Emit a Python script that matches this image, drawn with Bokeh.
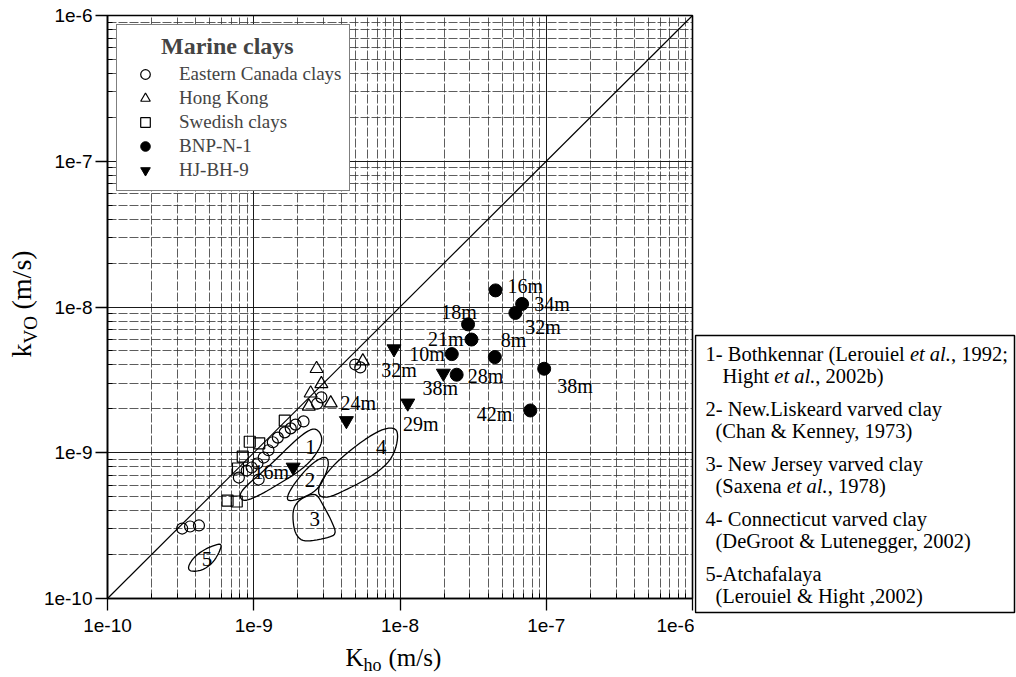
import numpy as np
from bokeh.plotting import figure
from bokeh.models import (ColumnDataSource, Legend, LegendItem, FixedTicker,
                          CustomJSTickFormatter, Range1d)
from bokeh.layouts import row, column
from bokeh.embed import file_html
from bokeh.resources import INLINE
from bokeh.core.properties import value

# ---------------- data (m/s) ----------------
canada_kh = [4.94e-9, 5.35e-9, 2.90e-9, 2.71e-9, 2.19e-9, 1.93e-9, 1.79e-9, 1.63e-9, 1.46e-9, 1.35e-9,
             1.26e-9, 1.17e-9, 1.06e-9, 9.68e-10, 8.95e-10, 7.91e-10, 1.08e-9, 3.24e-10, 3.67e-10, 4.22e-10]
canada_kv = [4.03e-9, 3.85e-9, 2.40e-9, 2.17e-9, 1.64e-9, 1.56e-9, 1.47e-9, 1.38e-9, 1.27e-9, 1.18e-9,
             1.04e-9, 9.27e-10, 8.44e-10, 7.92e-10, 7.55e-10, 6.76e-10, 6.55e-10, 3.02e-10, 3.12e-10, 3.17e-10]

hk_kh = [2.69e-9, 5.57e-9, 2.90e-9, 2.45e-9, 3.36e-9, 2.38e-9]
hk_kv = [3.77e-9, 4.25e-9, 2.97e-9, 2.56e-9, 2.19e-9, 2.08e-9]

sw_kh = [1.63e-9, 9.39e-10, 1.09e-9, 8.41e-10, 7.80e-10, 6.62e-10, 7.65e-10]
sw_kv = [1.66e-9, 1.19e-9, 1.16e-9, 9.42e-10, 7.80e-10, 4.70e-10, 4.63e-10]

bnp_kh = [4.50e-8, 6.84e-8, 6.15e-8, 2.92e-8, 3.08e-8, 4.45e-8, 2.26e-8, 2.44e-8, 9.68e-8, 7.78e-8]
bnp_kv = [1.30e-8, 1.05e-8, 9.1e-9, 7.6e-9, 5.98e-9, 4.53e-9, 4.75e-9, 3.43e-9, 3.77e-9, 1.95e-9]
bnp_depth = ["16m", "34m", "32m", "18m", "21m", "8m", "10m", "28m", "38m", "42m"]

hj_kh = [9.1e-9, 1.98e-8, 1.13e-8, 4.3e-9, 1.86e-9]
hj_kv = [5.16e-9, 3.51e-9, 2.19e-9, 1.66e-9, 7.96e-10]
hj_depth = ["32m", "38m", "29m", "24m", "16m"]

# literature zones: outlines as log10(kh), log10(kv)
zone_names = ["1", "2", "3", "4", "5"]
zone_lx = [
    [-8.571, -8.530, -8.545, -8.605, -8.696, -8.810, -8.923, -9.014, -9.075, -9.100, -9.062, -8.968, -8.855, -8.741, -8.639],
    [-8.503, -8.485, -8.515, -8.560, -8.628, -8.707, -8.772, -8.766, -8.707, -8.628, -8.560],
    [-8.571, -8.524, -8.469, -8.432, -8.503, -8.605, -8.673, -8.717, -8.733, -8.730, -8.694, -8.633],
    [-8.027, -8.012, -8.039, -8.107, -8.243, -8.379, -8.492, -8.560, -8.552, -8.469, -8.356, -8.220, -8.107],
    [-9.215, -9.240, -9.286, -9.354, -9.433, -9.452, -9.410, -9.342, -9.274],
]
zone_ly = [
    [-8.830, -8.893, -8.962, -9.053, -9.133, -9.202, -9.271, -9.316, -9.332, -9.293, -9.236, -9.156, -9.053, -8.939, -8.852],
    [-9.025, -9.076, -9.168, -9.247, -9.293, -9.323, -9.332, -9.282, -9.190, -9.099, -9.045],
    [-9.280, -9.362, -9.465, -9.560, -9.585, -9.605, -9.605, -9.554, -9.465, -9.383, -9.328, -9.293],
    [-8.830, -8.893, -9.007, -9.099, -9.190, -9.259, -9.310, -9.297, -9.213, -9.099, -8.996, -8.893, -8.832],
    [-9.622, -9.693, -9.762, -9.808, -9.816, -9.785, -9.717, -9.666, -9.636],
]
zone_label_kh = [2.44e-9, 2.42e-9, 2.61e-9, 7.43e-9, 4.79e-10]
zone_label_kv = [1.10e-9, 6.52e-10, 3.52e-10, 1.09e-9, 1.87e-10]

axis_ticks = [1e-10, 1e-9, 1e-8, 1e-7, 1e-6]

legend_title = "Marine clays"
legend_labels = ["Eastern Canada clays", "Hong Kong", "Swedish clays", "BNP-N-1", "HJ-BH-9"]

x_title = ["K", "ho", "(m/s)"]
y_title = ["k", "VO", "(m/s)"]

notes = [
    [("1- Bothkennar (Lerouiel ", "normal"), ("et al.", "italic"), (", 1992;", "normal")],
    [("Hight ", "normal"), ("et al.", "italic"), (", 2002b)", "normal")],
    [("2- New.Liskeard varved clay", "normal")],
    [("(Chan & Kenney, 1973)", "normal")],
    [("3- New Jersey varved clay", "normal")],
    [("(Saxena ", "normal"), ("et al.", "italic"), (", 1978)", "normal")],
    [("4- Connecticut varved clay", "normal")],
    [("(DeGroot & Lutenegger, 2002)", "normal")],
    [("5-Atchafalaya", "normal")],
    [("(Lerouiel & Hight ,2002)", "normal")],
]

# ---------------- styles / layout ----------------
SERIF = "Liberation Serif"
SANS = "Liberation Sans"


def blank(w, h, xr, yr):
    f = figure(width=w, height=h, x_range=Range1d(*xr), y_range=Range1d(*yr),
               output_backend="svg", toolbar_location=None, min_border=0,
               x_axis_location=None, y_axis_location=None)
    f.xgrid.visible = False
    f.ygrid.visible = False
    f.outline_line_color = None
    f.background_fill_color = "white"
    f.border_fill_color = "white"
    f.frame_align = False
    return f


p = figure(width=654, height=645, x_axis_type="log", y_axis_type="log",
           x_range=Range1d(axis_ticks[0], axis_ticks[-1]), y_range=Range1d(axis_ticks[0], axis_ticks[-1]),
           output_backend="svg", toolbar_location=None,
           min_border_left=65, min_border_right=2, min_border_top=15, min_border_bottom=47)
p.frame_align = False
p.background_fill_color = "white"
p.border_fill_color = "white"
p.outline_line_color = "black"
p.outline_line_width = 1.6

minor = [m * t for t in axis_ticks[:-1] for m in range(2, 10)]
for ax, grid in ((p.xaxis, p.xgrid), (p.yaxis, p.ygrid)):
    tk = FixedTicker(ticks=axis_ticks, minor_ticks=minor)
    ax.ticker = tk
    grid.ticker = tk
    ax.formatter = CustomJSTickFormatter(code="return '1e' + Math.round(Math.log10(tick));")
    ax.axis_line_width = 1.5
    ax.axis_line_color = "black"
    ax.major_tick_out = 12
    ax.major_tick_in = 0
    ax.major_tick_line_width = 1.3
    ax.minor_tick_in = 5
    ax.minor_tick_out = 0
    ax.major_label_text_font = SANS
    ax.major_label_text_font_size = "19px"
    ax.major_label_text_color = "black"
    grid.grid_line_color = "#1a1a1a"
    grid.grid_line_width = 1.0
    grid.minor_grid_line_color = "#333333"
    grid.minor_grid_line_width = 0.8
    grid.minor_grid_line_dash = "9 2"
p.xaxis.major_label_standoff = 8
p.yaxis.major_label_standoff = 3

# 1:1 line
p.line(x=axis_ticks[::4], y=axis_ticks[::4], line_color="black", line_width=1.2)


# zones
def smooth(lx, ly, n=2):
    pts = np.column_stack([lx, ly])
    for _ in range(n):
        nxt = np.roll(pts, -1, axis=0)
        q = 0.75 * pts + 0.25 * nxt
        r = 0.25 * pts + 0.75 * nxt
        out = np.empty((2 * len(pts), 2))
        out[0::2] = q
        out[1::2] = r
        pts = out
    return list(10 ** pts[:, 0]), list(10 ** pts[:, 1])


zx, zy = [], []
for lx, ly in zip(zone_lx, zone_ly):
    a, b = smooth(lx, ly)
    zx.append(a)
    zy.append(b)
p.patches(xs=zx, ys=zy, fill_color=None, line_color="black", line_width=1.3)
p.text(x=zone_label_kh, y=zone_label_kv, text=zone_names, text_font=value(SERIF),
       text_font_size="21px", text_align="center", text_baseline="middle", text_color="black")

# markers
r_can = p.scatter(canada_kh, canada_kv, marker="circle", size=11, fill_color=None,
                  line_color="black", line_width=1.2)
r_hk = p.scatter(hk_kh, hk_kv, marker="triangle", size=13, fill_color=None,
                 line_color="black", line_width=1.2)
r_sw = p.scatter(sw_kh, sw_kv, marker="square", size=11, fill_color=None,
                 line_color="black", line_width=1.2)
r_bnp = p.scatter(bnp_kh, bnp_kv, marker="circle", size=13, fill_color="black", line_color="black")
r_hj = p.scatter(hj_kh, hj_kv, marker="inverted_triangle", size=14, fill_color="black", line_color="black")


# depth labels (one call per alignment)
def depth_labels(kh, kv, names, dx, dy, al):
    for a in sorted(set(al)):
        idx = [i for i, v in enumerate(al) if v == a]
        src = ColumnDataSource(dict(x=[kh[i] for i in idx], y=[kv[i] for i in idx],
                                    t=[names[i] for i in idx],
                                    dx=[dx[i] for i in idx], dy=[dy[i] for i in idx]))
        p.text(x="x", y="y", text="t", x_offset="dx", y_offset="dy", text_align=a, source=src,
               text_baseline="middle", text_font=value(SERIF), text_font_size="20px", text_color="black")


depth_labels(bnp_kh, bnp_kv, bnp_depth,
             [12, 12, 10, -9, -8, 6, -7, 11, 13, -18],
             [-4, 0, 14, -12, -1, -17, 0, 1, 17, 4],
             ["left", "left", "left", "center", "right", "left", "right", "left", "left", "right"])
depth_labels(hj_kh, hj_kv, hj_depth,
             [5, -3, 13, 12, -4], [21, 15, 21, -18, 5],
             ["center", "center", "center", "center", "right"])

# legend
legend = Legend(items=[LegendItem(label=lab, renderers=[r])
                       for lab, r in zip(legend_labels, [r_can, r_hk, r_sw, r_bnp, r_hj])],
                location="top_left", title="\u00a0" * 6 + legend_title)
legend.border_line_color = "black"
legend.border_line_width = 1.5
legend.background_fill_color = "white"
legend.background_fill_alpha = 1.0
legend.label_text_font = SERIF
legend.label_text_font_size = "19px"
legend.title_text_font = SERIF
legend.title_text_font_style = "bold"
legend.title_text_font_size = "24px"
legend.padding = 8
legend.spacing = 0
legend.glyph_width = 40
legend.glyph_height = 24
legend.label_height = 24
legend.label_standoff = 14
legend.margin = 9
legend.title_standoff = 2
p.add_layout(legend)

# ---------------- axis title strips ----------------
# y title strip: page x 0..40, page y 0..677 (y grows downward)
ylab = blank(40, 677, (0, 40), (677, 0))
ylab.text(x=[21], y=[357], text=[y_title[0]], angle=np.pi / 2,
          text_font_size="28px", text_align="left", text_baseline="middle",
          text_font=value(SERIF), text_color="black")
ylab.text(x=[30], y=[343], text=[y_title[1]], angle=np.pi / 2,
          text_font_size="19px", text_align="left", text_baseline="middle",
          text_font=value(SERIF), text_color="black")
ylab.text(x=[21], y=[309], text=[y_title[2]], angle=np.pi / 2,
          text_font_size="28px", text_align="left", text_baseline="middle",
          text_font=value(SERIF), text_color="black")

# x title strip: page x 40..694, page y 645..677
xlab = blank(654, 32, (40, 694), (677, 645))
xlab.text(x=[363], y=[657], text=[x_title[0]], text_font_size="25px", text_align="right",
          text_baseline="middle", text_font=value(SERIF), text_color="black")
xlab.text(x=[363], y=[664], text=[x_title[1]], text_font_size="18px", text_align="left",
          text_baseline="middle", text_font=value(SERIF), text_color="black")
xlab.text(x=[388], y=[657], text=[x_title[2]], text_font_size="25px", text_align="left",
          text_baseline="middle", text_font=value(SERIF), text_color="black")

# ---------------- right-hand notes panel ----------------
p2 = blank(322, 677, (694, 1016), (677, 0))
p2.quad(left=[695], right=[1014], top=[335], bottom=[612], fill_color=None, line_color="black", line_width=1.5)

line_y = [353, 375, 408, 430, 463, 485, 518, 540, 573, 595]
line_x0 = [705, 722, 705, 715, 705, 715, 705, 715, 705, 715]
piece_x = {0: [705, 909.4, 950.4], 1: [722, 773.8, 814.8], 5: [715, 786.2, 827.2]}
groups = {"normal": dict(x=[], y=[], t=[]), "italic": dict(x=[], y=[], t=[])}
for i, pieces in enumerate(notes):
    xs = piece_x.get(i, [line_x0[i]])
    for (txt, sty), xx in zip(pieces, xs):
        groups[sty]["x"].append(xx)
        groups[sty]["y"].append(line_y[i])
        groups[sty]["t"].append(txt)
for sty, d in groups.items():
    p2.text(x="x", y="y", text="t", source=ColumnDataSource(d), text_font_style=sty,
            text_align="left", text_baseline="middle", text_font=value(SERIF),
            text_font_size="20.5px", text_color="black")

layout = row(ylab, column(p, xlab), p2)
open("out.html", "w").write(file_html(layout, INLINE))
